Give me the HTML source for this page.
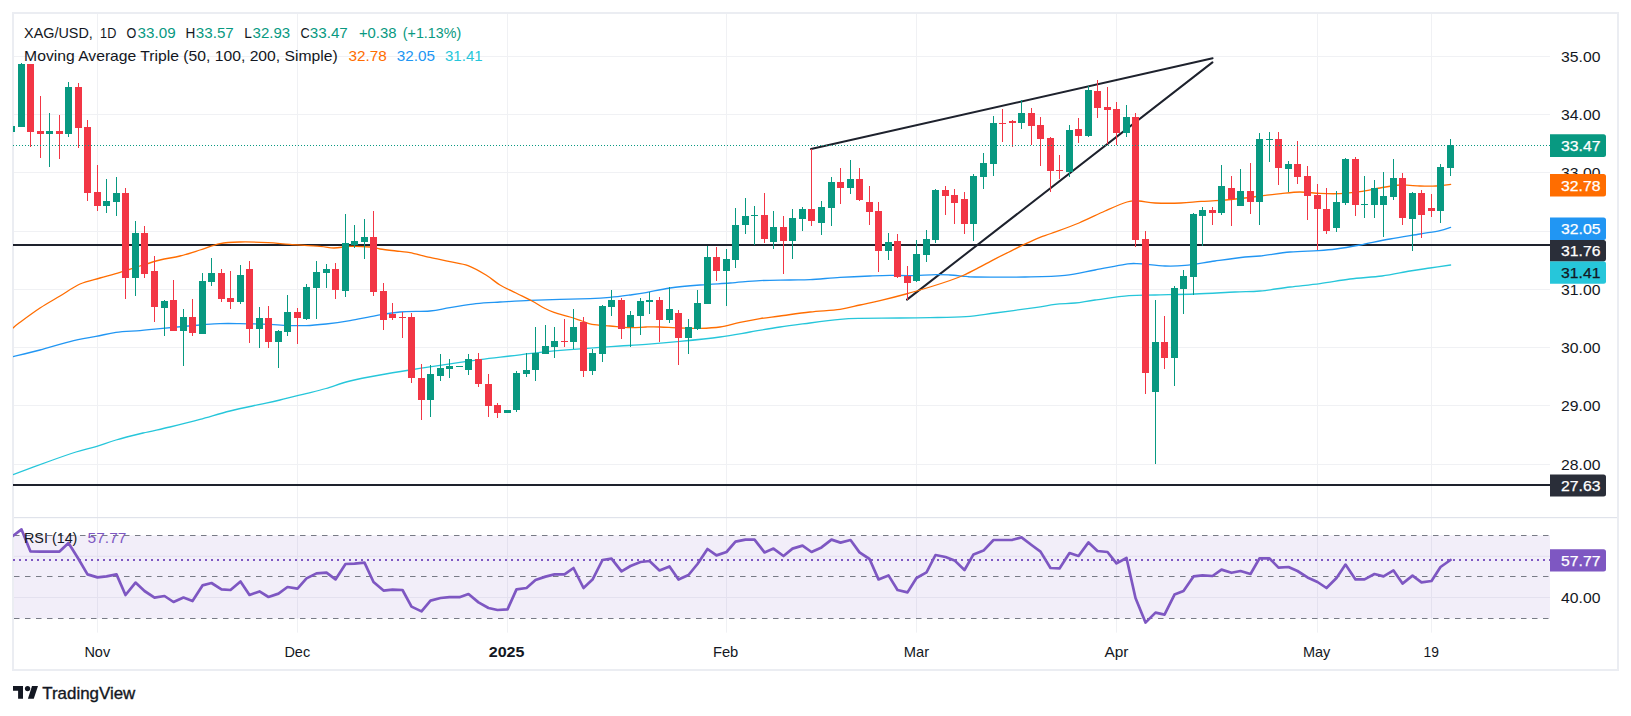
<!DOCTYPE html>
<html lang="en"><head><meta charset="utf-8"><title>XAG/USD chart</title>
<style>html,body{margin:0;padding:0;background:#fff;}body{width:1631px;height:716px;overflow:hidden;}svg{display:block;}text{white-space:pre;}</style>
</head><body>
<svg width="1631" height="716" viewBox="0 0 1631 716" font-family='"Liberation Sans", Arial, sans-serif'>
<rect x="0" y="0" width="1631" height="716" fill="#ffffff"/>
<defs><clipPath id="cp"><rect x="13" y="14" width="1537" height="503.5"/></clipPath><clipPath id="cr"><rect x="13" y="518" width="1537" height="114.6"/></clipPath></defs>
<rect x="13" y="13" width="1605" height="657" fill="none" stroke="#ebedf2" stroke-width="2"/>
<rect x="14" y="56.0" width="1536" height="1" fill="#f0f1f4"/>
<rect x="14" y="114.0" width="1536" height="1" fill="#f0f1f4"/>
<rect x="14" y="172.0" width="1536" height="1" fill="#f0f1f4"/>
<rect x="14" y="231.0" width="1536" height="1" fill="#f0f1f4"/>
<rect x="14" y="289.0" width="1536" height="1" fill="#f0f1f4"/>
<rect x="14" y="347.0" width="1536" height="1" fill="#f0f1f4"/>
<rect x="14" y="405.0" width="1536" height="1" fill="#f0f1f4"/>
<rect x="14" y="464.0" width="1536" height="1" fill="#f0f1f4"/>
<rect x="14" y="555.8" width="1536" height="1" fill="#f0f1f4"/>
<rect x="14" y="597.0" width="1536" height="1" fill="#f0f1f4"/>
<rect x="97.0" y="14" width="1" height="618.6" fill="#f0f1f4"/>
<rect x="297.0" y="14" width="1" height="618.6" fill="#f0f1f4"/>
<rect x="507.0" y="14" width="1" height="618.6" fill="#f0f1f4"/>
<rect x="726.0" y="14" width="1" height="618.6" fill="#f0f1f4"/>
<rect x="916.0" y="14" width="1" height="618.6" fill="#f0f1f4"/>
<rect x="1116.0" y="14" width="1" height="618.6" fill="#f0f1f4"/>
<rect x="1317.0" y="14" width="1" height="618.6" fill="#f0f1f4"/>
<rect x="1431.0" y="14" width="1" height="618.6" fill="#f0f1f4"/>
<rect x="14" y="517" width="1603" height="1.2" fill="#e0e3eb"/>
<rect x="14" y="535.5" width="1536" height="83" fill="rgba(126,87,194,0.10)"/>
<line x1="14" y1="535.5" x2="1550" y2="535.5" stroke="#787b86" stroke-width="1.2" stroke-dasharray="5.5 5.5"/>
<line x1="14" y1="576.5" x2="1550" y2="576.5" stroke="#787b86" stroke-width="1.2" stroke-dasharray="5.5 5.5"/>
<line x1="14" y1="618.5" x2="1550" y2="618.5" stroke="#787b86" stroke-width="1.2" stroke-dasharray="5.5 5.5"/>
<g clip-path="url(#cp)">
<line x1="13" y1="245" x2="1550" y2="245" stroke="#1e222d" stroke-width="2"/>
<line x1="13" y1="485" x2="1550" y2="485" stroke="#1e222d" stroke-width="2"/>
<line x1="811" y1="149" x2="1212.6" y2="58.2" stroke="#1e222d" stroke-width="2" stroke-linecap="round"/>
<line x1="907" y1="299.6" x2="1212.4" y2="62.4" stroke="#1e222d" stroke-width="2" stroke-linecap="round"/>
<path d="M13.0 474.6C19.2 472.3 39.5 464.8 50.0 461.0C60.5 457.2 68.3 454.4 76.0 452.0C83.7 449.6 89.3 448.6 96.0 446.6C102.7 444.6 108.2 442.3 116.0 440.0C123.8 437.7 134.0 435.2 143.0 433.0C152.0 430.8 160.5 429.3 170.0 427.0C179.5 424.7 190.0 422.1 200.0 419.4C210.0 416.7 220.0 413.5 230.0 411.0C240.0 408.5 251.7 406.2 260.0 404.4C268.3 402.6 272.3 401.8 280.0 400.0C287.7 398.2 298.3 395.5 306.0 393.6C313.7 391.7 318.7 390.6 326.0 388.5C333.3 386.4 341.0 383.2 350.0 381.0C359.0 378.8 370.0 376.8 380.0 375.0C390.0 373.2 400.0 371.6 410.0 370.0C420.0 368.4 428.3 367.1 440.0 365.4C451.7 363.7 468.3 361.2 480.0 359.6C491.7 358.0 500.0 357.2 510.0 356.0C520.0 354.8 530.0 353.5 540.0 352.4C550.0 351.3 560.0 350.4 570.0 349.6C580.0 348.8 591.7 348.0 600.0 347.4C608.3 346.8 612.3 346.5 620.0 346.0C627.7 345.5 636.0 345.2 646.0 344.4C656.0 343.6 667.7 342.6 680.0 341.4C692.3 340.2 708.3 338.6 720.0 337.0C731.7 335.4 740.0 333.7 750.0 332.0C760.0 330.3 770.0 328.5 780.0 327.0C790.0 325.5 800.0 324.3 810.0 323.0C820.0 321.7 831.7 320.2 840.0 319.4C848.3 318.6 850.0 318.6 860.0 318.4C870.0 318.2 888.3 318.1 900.0 318.0C911.7 317.9 919.0 317.8 930.0 317.6C941.0 317.4 955.2 317.4 966.0 316.6C976.8 315.8 983.5 314.5 995.0 313.0C1006.5 311.5 1025.0 309.0 1035.0 307.6C1045.0 306.2 1048.3 305.2 1055.0 304.4C1061.7 303.6 1068.3 303.7 1075.0 303.0C1081.7 302.3 1086.0 301.2 1095.0 300.0C1104.0 298.8 1119.0 296.4 1129.0 295.6C1139.0 294.8 1144.0 295.3 1155.0 295.0C1166.0 294.7 1181.7 294.5 1195.0 294.0C1208.3 293.5 1224.2 292.5 1235.0 292.0C1245.8 291.5 1250.8 291.8 1260.0 291.0C1269.2 290.2 1280.0 288.2 1290.0 287.0C1300.0 285.8 1310.0 284.9 1320.0 283.6C1330.0 282.3 1339.7 280.3 1350.0 279.0C1360.3 277.7 1372.0 277.3 1382.0 276.0C1392.0 274.7 1402.0 272.3 1410.0 271.0C1418.0 269.7 1423.2 269.0 1430.0 268.0C1436.8 267.0 1447.2 265.5 1450.6 265.0" fill="none" stroke="#26c6da" stroke-width="1.3" stroke-linejoin="round" stroke-linecap="round"/>
<path d="M13.0 356.6C17.5 355.5 30.5 352.5 40.0 350.0C49.5 347.5 60.7 343.9 70.0 341.6C79.3 339.3 88.3 337.9 96.0 336.4C103.7 334.9 108.7 333.4 116.0 332.4C123.3 331.4 132.7 331.2 140.0 330.6C147.3 330.0 150.0 329.5 160.0 328.6C170.0 327.7 190.0 325.8 200.0 325.0C210.0 324.2 213.3 323.8 220.0 323.6C226.7 323.4 231.7 323.5 240.0 323.6C248.3 323.7 262.7 324.1 270.0 324.4C277.3 324.7 278.0 325.2 284.0 325.4C290.0 325.6 299.0 325.8 306.0 325.6C313.0 325.4 318.7 324.8 326.0 324.0C333.3 323.2 341.7 322.0 350.0 320.6C358.3 319.2 367.7 317.0 376.0 315.6C384.3 314.2 391.0 312.8 400.0 312.0C409.0 311.2 421.7 311.7 430.0 311.0C438.3 310.3 442.3 308.8 450.0 307.6C457.7 306.4 467.7 304.5 476.0 303.6C484.3 302.7 491.0 302.5 500.0 302.0C509.0 301.5 520.0 300.8 530.0 300.4C540.0 300.0 550.0 299.7 560.0 299.4C570.0 299.1 581.7 298.9 590.0 298.6C598.3 298.3 603.3 298.0 610.0 297.4C616.7 296.8 624.0 295.8 630.0 295.0C636.0 294.2 639.3 293.8 646.0 292.6C652.7 291.4 661.0 289.3 670.0 288.0C679.0 286.7 690.0 285.8 700.0 285.0C710.0 284.2 720.0 283.7 730.0 283.0C740.0 282.3 750.0 281.1 760.0 280.6C770.0 280.1 781.7 280.2 790.0 280.0C798.3 279.8 801.7 280.0 810.0 279.6C818.3 279.2 830.0 278.0 840.0 277.4C850.0 276.8 861.7 276.3 870.0 276.0C878.3 275.7 883.3 275.5 890.0 275.4C896.7 275.3 902.3 275.7 910.0 275.6C917.7 275.5 929.3 274.7 936.0 274.6C942.7 274.5 945.0 274.7 950.0 275.0C955.0 275.3 961.8 276.1 966.0 276.4C970.2 276.7 965.2 276.9 975.0 277.0C984.8 277.1 1010.0 277.3 1025.0 277.0C1040.0 276.7 1053.3 276.6 1065.0 275.4C1076.7 274.2 1085.0 271.8 1095.0 270.0C1105.0 268.2 1118.0 265.5 1125.0 264.4C1132.0 263.3 1130.3 263.3 1137.0 263.6C1143.7 263.9 1157.0 265.7 1165.0 266.0C1173.0 266.3 1176.7 266.2 1185.0 265.4C1193.3 264.6 1205.0 262.4 1215.0 261.0C1225.0 259.6 1237.5 257.8 1245.0 257.0C1252.5 256.2 1252.5 256.8 1260.0 256.0C1267.5 255.2 1280.3 252.9 1290.0 252.0C1299.7 251.1 1310.3 251.1 1318.0 250.6C1325.7 250.1 1329.0 249.9 1336.0 249.0C1343.0 248.1 1351.0 246.7 1360.0 245.0C1369.0 243.3 1380.0 240.8 1390.0 239.0C1400.0 237.2 1411.7 235.4 1420.0 234.0C1428.3 232.6 1434.9 231.7 1440.0 230.6C1445.1 229.5 1448.8 227.9 1450.6 227.4" fill="none" stroke="#2196f3" stroke-width="1.3" stroke-linejoin="round" stroke-linecap="round"/>
<path d="M13.0 328.0C14.0 327.2 14.5 326.3 19.0 323.0C23.5 319.7 33.2 312.5 40.0 308.0C46.8 303.5 53.3 300.0 60.0 296.0C66.7 292.0 73.3 287.0 80.0 284.0C86.7 281.0 93.3 279.9 100.0 278.0C106.7 276.1 113.3 274.4 120.0 272.4C126.7 270.4 133.3 268.1 140.0 266.0C146.7 263.9 153.3 261.7 160.0 260.0C166.7 258.3 173.3 257.7 180.0 256.0C186.7 254.3 193.3 252.1 200.0 250.0C206.7 247.9 213.3 244.9 220.0 243.6C226.7 242.3 232.0 242.2 240.0 242.0C248.0 241.8 259.7 242.2 268.0 242.6C276.3 243.0 281.3 243.8 290.0 244.4C298.7 245.0 312.7 245.8 320.0 246.4C327.3 247.0 329.0 248.0 334.0 248.0C339.0 248.0 344.0 246.6 350.0 246.4C356.0 246.2 365.0 246.6 370.0 247.0C375.0 247.4 375.0 248.3 380.0 249.0C385.0 249.7 395.0 250.8 400.0 251.4C405.0 252.0 405.0 251.6 410.0 252.6C415.0 253.6 423.3 255.9 430.0 257.4C436.7 258.9 443.7 260.2 450.0 261.6C456.3 263.0 462.0 263.4 468.0 265.6C474.0 267.8 480.7 271.8 486.0 275.0C491.3 278.2 495.0 282.0 500.0 285.0C505.0 288.0 510.7 290.3 516.0 293.0C521.3 295.7 527.3 298.5 532.0 301.0C536.7 303.5 540.3 306.1 544.0 308.0C547.7 309.9 549.7 310.9 554.0 312.4C558.3 313.9 565.3 315.6 570.0 317.0C574.7 318.4 578.3 319.8 582.0 321.0C585.7 322.2 587.3 323.6 592.0 324.4C596.7 325.2 603.7 325.5 610.0 326.0C616.3 326.5 624.0 327.4 630.0 327.6C636.0 327.8 641.0 327.1 646.0 327.0C651.0 326.9 654.3 326.8 660.0 327.0C665.7 327.2 673.3 327.8 680.0 328.0C686.7 328.2 693.3 328.6 700.0 328.4C706.7 328.2 713.3 328.0 720.0 327.0C726.7 326.0 733.3 323.8 740.0 322.4C746.7 321.0 753.3 319.7 760.0 318.6C766.7 317.5 771.7 317.1 780.0 316.0C788.3 314.9 800.0 313.1 810.0 312.0C820.0 310.9 831.7 310.6 840.0 309.4C848.3 308.2 853.3 306.5 860.0 305.0C866.7 303.5 872.3 302.4 880.0 300.6C887.7 298.8 897.7 296.3 906.0 294.0C914.3 291.7 922.7 289.2 930.0 287.0C937.3 284.8 944.5 282.4 950.0 280.5C955.5 278.6 958.2 277.6 963.0 275.5C967.8 273.4 973.5 270.4 978.7 267.7C983.9 265.0 989.4 261.8 994.3 259.3C999.2 256.8 1003.3 254.8 1008.0 252.5C1012.7 250.2 1017.4 247.7 1022.7 245.2C1028.0 242.7 1035.3 239.2 1040.0 237.3C1044.7 235.4 1044.5 235.9 1051.0 233.5C1057.5 231.1 1070.0 226.8 1079.0 223.0C1088.0 219.2 1097.0 214.5 1105.0 211.0C1113.0 207.5 1121.3 203.7 1127.0 202.0C1132.7 200.3 1134.3 200.8 1139.0 201.0C1143.7 201.2 1148.0 202.7 1155.0 203.0C1162.0 203.3 1173.3 203.3 1181.0 203.0C1188.7 202.7 1194.3 201.8 1201.0 201.4C1207.7 201.0 1213.7 201.0 1221.0 200.4C1228.3 199.8 1237.7 198.8 1245.0 198.0C1252.3 197.2 1259.0 196.1 1265.0 195.4C1271.0 194.7 1275.2 194.2 1281.0 193.6C1286.8 193.0 1293.5 192.0 1300.0 192.0C1306.5 192.0 1313.3 193.1 1320.0 193.4C1326.7 193.7 1333.3 193.9 1340.0 193.6C1346.7 193.3 1353.3 192.5 1360.0 191.6C1366.7 190.7 1373.3 189.1 1380.0 188.0C1386.7 186.9 1393.3 185.3 1400.0 185.0C1406.7 184.7 1414.0 185.8 1420.0 186.0C1426.0 186.2 1430.9 186.3 1436.0 186.0C1441.1 185.7 1448.2 184.7 1450.6 184.4" fill="none" stroke="#ff6d00" stroke-width="1.3" stroke-linejoin="round" stroke-linecap="round"/>
<path d="M11.0 126.0h1V132.0h-1ZM8.0 126.0h7v6.0h-7ZM21.0 63.0h1V127.0h-1ZM18.0 64.0h7v63.0h-7ZM49.0 113.0h1V167.0h-1ZM46.0 131.0h7v3.0h-7ZM68.0 82.0h1V137.0h-1ZM65.0 87.0h7v47.0h-7ZM106.0 179.0h1V213.0h-1ZM103.0 201.0h7v5.0h-7ZM116.0 177.0h1V216.0h-1ZM113.0 193.0h7v9.0h-7ZM135.0 221.0h1V296.0h-1ZM132.0 233.0h7v45.0h-7ZM164.0 300.0h1V336.0h-1ZM161.0 301.0h7v7.0h-7ZM183.0 309.0h1V366.0h-1ZM180.0 317.0h7v14.0h-7ZM202.0 273.0h1V334.0h-1ZM199.0 281.0h7v53.0h-7ZM211.0 258.0h1V286.0h-1ZM208.0 273.0h7v9.0h-7ZM240.0 265.0h1V304.0h-1ZM237.0 275.0h7v27.0h-7ZM259.0 307.0h1V348.0h-1ZM256.0 318.0h7v11.0h-7ZM278.0 330.0h1V368.0h-1ZM275.0 331.0h7v11.0h-7ZM287.0 295.0h1V336.0h-1ZM284.0 312.0h7v20.0h-7ZM306.0 284.0h1V320.0h-1ZM303.0 287.0h7v32.0h-7ZM316.0 261.0h1V319.0h-1ZM313.0 272.0h7v16.0h-7ZM326.0 264.0h1V288.0h-1ZM323.0 269.0h7v4.0h-7ZM345.0 214.0h1V297.0h-1ZM342.0 243.0h7v48.0h-7ZM354.0 225.0h1V248.0h-1ZM351.0 241.0h7v4.0h-7ZM364.0 219.0h1V259.0h-1ZM361.0 237.0h7v5.0h-7ZM430.0 365.0h1V417.0h-1ZM427.0 374.0h7v26.0h-7ZM440.0 354.0h1V381.0h-1ZM437.0 368.0h7v8.0h-7ZM449.0 359.0h1V378.0h-1ZM446.0 366.0h7v3.0h-7ZM459.0 366.0h1V367.0h-1ZM456.0 366.0h7v1.0h-7ZM468.0 354.0h1V375.0h-1ZM465.0 359.0h7v11.0h-7ZM507.0 410.0h1V413.0h-1ZM504.0 410.0h7v3.0h-7ZM516.0 371.0h1V412.0h-1ZM513.0 373.0h7v37.0h-7ZM526.0 353.0h1V377.0h-1ZM523.0 370.0h7v4.0h-7ZM535.0 327.0h1V381.0h-1ZM532.0 353.0h7v17.0h-7ZM545.0 325.0h1V354.0h-1ZM542.0 346.0h7v8.0h-7ZM554.0 327.0h1V358.0h-1ZM551.0 341.0h7v6.0h-7ZM573.0 309.0h1V349.0h-1ZM570.0 327.0h7v15.0h-7ZM592.0 349.0h1V375.0h-1ZM589.0 353.0h7v18.0h-7ZM602.0 305.0h1V362.0h-1ZM599.0 306.0h7v48.0h-7ZM611.0 290.0h1V316.0h-1ZM608.0 300.0h7v7.0h-7ZM630.0 311.0h1V347.0h-1ZM627.0 315.0h7v12.0h-7ZM640.0 298.0h1V335.0h-1ZM637.0 301.0h7v15.0h-7ZM649.0 292.0h1V314.0h-1ZM646.0 300.0h7v2.0h-7ZM669.0 287.0h1V323.0h-1ZM666.0 309.0h7v11.0h-7ZM688.0 319.0h1V354.0h-1ZM685.0 327.0h7v11.0h-7ZM697.0 290.0h1V330.0h-1ZM694.0 303.0h7v26.0h-7ZM707.0 246.0h1V304.0h-1ZM704.0 257.0h7v47.0h-7ZM726.0 249.0h1V306.0h-1ZM723.0 259.0h7v12.0h-7ZM735.0 208.0h1V268.0h-1ZM732.0 225.0h7v35.0h-7ZM745.0 198.0h1V234.0h-1ZM742.0 216.0h7v9.0h-7ZM754.0 206.0h1V245.0h-1ZM751.0 215.0h7v1.0h-7ZM773.0 211.0h1V249.0h-1ZM770.0 227.0h7v15.0h-7ZM792.0 209.0h1V259.0h-1ZM789.0 218.0h7v23.0h-7ZM802.0 207.0h1V231.0h-1ZM799.0 209.0h7v10.0h-7ZM821.0 201.0h1V235.0h-1ZM818.0 207.0h7v16.0h-7ZM831.0 177.0h1V226.0h-1ZM828.0 182.0h7v26.0h-7ZM850.0 160.0h1V194.0h-1ZM847.0 179.0h7v9.0h-7ZM888.0 233.0h1V260.0h-1ZM885.0 242.0h7v9.0h-7ZM916.0 240.0h1V282.0h-1ZM913.0 254.0h7v27.0h-7ZM926.0 230.0h1V262.0h-1ZM923.0 239.0h7v16.0h-7ZM935.0 189.0h1V243.0h-1ZM932.0 190.0h7v50.0h-7ZM973.0 174.0h1V241.0h-1ZM970.0 176.0h7v48.0h-7ZM983.0 153.0h1V189.0h-1ZM980.0 163.0h7v14.0h-7ZM993.0 116.0h1V176.0h-1ZM990.0 123.0h7v41.0h-7ZM1021.0 100.0h1V129.0h-1ZM1018.0 113.0h7v10.0h-7ZM1069.0 125.0h1V177.0h-1ZM1066.0 130.0h7v42.0h-7ZM1088.0 86.0h1V137.0h-1ZM1085.0 90.0h7v46.0h-7ZM1126.0 105.0h1V137.0h-1ZM1123.0 117.0h7v16.0h-7ZM1155.0 300.0h1V464.0h-1ZM1152.0 342.0h7v50.0h-7ZM1174.0 286.0h1V386.0h-1ZM1171.0 288.0h7v70.0h-7ZM1183.0 270.0h1V314.0h-1ZM1180.0 276.0h7v13.0h-7ZM1193.0 213.0h1V295.0h-1ZM1190.0 214.0h7v63.0h-7ZM1202.0 207.0h1V246.0h-1ZM1199.0 210.0h7v6.0h-7ZM1221.0 165.0h1V215.0h-1ZM1218.0 186.0h7v27.0h-7ZM1240.0 169.0h1V206.0h-1ZM1237.0 191.0h7v15.0h-7ZM1259.0 133.0h1V225.0h-1ZM1256.0 139.0h7v63.0h-7ZM1269.0 132.0h1V162.0h-1ZM1266.0 139.0h7v1.0h-7ZM1288.0 161.0h1V192.0h-1ZM1285.0 164.0h7v5.0h-7ZM1336.0 191.0h1V232.0h-1ZM1333.0 202.0h7v26.0h-7ZM1345.0 158.0h1V205.0h-1ZM1342.0 159.0h7v44.0h-7ZM1364.0 176.0h1V218.0h-1ZM1361.0 204.0h7v1.0h-7ZM1374.0 180.0h1V218.0h-1ZM1371.0 188.0h7v17.0h-7ZM1383.0 172.0h1V237.0h-1ZM1380.0 196.0h7v9.0h-7ZM1393.0 159.0h1V200.0h-1ZM1390.0 178.0h7v19.0h-7ZM1412.0 192.0h1V251.0h-1ZM1409.0 193.0h7v26.0h-7ZM1440.0 164.0h1V223.0h-1ZM1437.0 167.0h7v44.0h-7ZM1450.0 139.0h1V176.0h-1ZM1447.0 145.0h7v23.0h-7Z" fill="#089981"/>
<path d="M30.0 64.0h1V147.0h-1ZM27.0 64.0h7v68.0h-7ZM40.0 96.0h1V158.0h-1ZM37.0 131.0h7v3.0h-7ZM59.0 115.0h1V159.0h-1ZM56.0 131.0h7v3.0h-7ZM78.0 83.0h1V148.0h-1ZM75.0 87.0h7v41.0h-7ZM87.0 120.0h1V201.0h-1ZM84.0 127.0h7v66.0h-7ZM97.0 165.0h1V211.0h-1ZM94.0 192.0h7v14.0h-7ZM125.0 188.0h1V299.0h-1ZM122.0 193.0h7v85.0h-7ZM144.0 226.0h1V278.0h-1ZM141.0 233.0h7v41.0h-7ZM154.0 256.0h1V322.0h-1ZM151.0 271.0h7v36.0h-7ZM173.0 280.0h1V331.0h-1ZM170.0 300.0h7v31.0h-7ZM192.0 299.0h1V336.0h-1ZM189.0 317.0h7v16.0h-7ZM221.0 269.0h1V302.0h-1ZM218.0 273.0h7v26.0h-7ZM230.0 271.0h1V309.0h-1ZM227.0 298.0h7v4.0h-7ZM249.0 261.0h1V343.0h-1ZM246.0 269.0h7v60.0h-7ZM268.0 306.0h1V348.0h-1ZM265.0 318.0h7v24.0h-7ZM297.0 308.0h1V344.0h-1ZM294.0 312.0h7v6.0h-7ZM335.0 263.0h1V299.0h-1ZM332.0 269.0h7v21.0h-7ZM373.0 211.0h1V296.0h-1ZM370.0 237.0h7v55.0h-7ZM383.0 283.0h1V330.0h-1ZM380.0 291.0h7v29.0h-7ZM392.0 303.0h1V320.0h-1ZM389.0 314.0h7v4.0h-7ZM402.0 312.0h1V338.0h-1ZM399.0 317.0h7v1.0h-7ZM411.0 313.0h1V383.0h-1ZM408.0 317.0h7v61.0h-7ZM421.0 364.0h1V420.0h-1ZM418.0 378.0h7v22.0h-7ZM478.0 353.0h1V387.0h-1ZM475.0 359.0h7v25.0h-7ZM488.0 374.0h1V417.0h-1ZM485.0 384.0h7v22.0h-7ZM497.0 403.0h1V418.0h-1ZM494.0 405.0h7v8.0h-7ZM564.0 319.0h1V347.0h-1ZM561.0 341.0h7v1.0h-7ZM583.0 317.0h1V377.0h-1ZM580.0 322.0h7v49.0h-7ZM621.0 298.0h1V339.0h-1ZM618.0 300.0h7v29.0h-7ZM659.0 297.0h1V342.0h-1ZM656.0 300.0h7v20.0h-7ZM678.0 310.0h1V365.0h-1ZM675.0 313.0h7v25.0h-7ZM716.0 247.0h1V281.0h-1ZM713.0 257.0h7v14.0h-7ZM764.0 193.0h1V243.0h-1ZM761.0 215.0h7v24.0h-7ZM783.0 216.0h1V274.0h-1ZM780.0 227.0h7v14.0h-7ZM811.0 149.0h1V226.0h-1ZM808.0 209.0h7v12.0h-7ZM840.0 168.0h1V204.0h-1ZM837.0 182.0h7v6.0h-7ZM859.0 168.0h1V201.0h-1ZM856.0 179.0h7v21.0h-7ZM869.0 186.0h1V225.0h-1ZM866.0 202.0h7v10.0h-7ZM878.0 202.0h1V272.0h-1ZM875.0 211.0h7v40.0h-7ZM897.0 234.0h1V278.0h-1ZM894.0 241.0h7v36.0h-7ZM907.0 266.0h1V300.0h-1ZM904.0 276.0h7v7.0h-7ZM945.0 186.0h1V215.0h-1ZM942.0 190.0h7v6.0h-7ZM954.0 189.0h1V224.0h-1ZM951.0 195.0h7v8.0h-7ZM964.0 192.0h1V234.0h-1ZM961.0 199.0h7v25.0h-7ZM1002.0 109.0h1V142.0h-1ZM999.0 123.0h7v1.0h-7ZM1012.0 120.0h1V147.0h-1ZM1009.0 121.0h7v2.0h-7ZM1031.0 108.0h1V145.0h-1ZM1028.0 113.0h7v13.0h-7ZM1040.0 117.0h1V166.0h-1ZM1037.0 125.0h7v14.0h-7ZM1050.0 137.0h1V192.0h-1ZM1047.0 138.0h7v33.0h-7ZM1059.0 155.0h1V179.0h-1ZM1056.0 170.0h7v1.0h-7ZM1078.0 118.0h1V143.0h-1ZM1075.0 129.0h7v7.0h-7ZM1097.0 80.0h1V118.0h-1ZM1094.0 91.0h7v17.0h-7ZM1107.0 87.0h1V144.0h-1ZM1104.0 107.0h7v3.0h-7ZM1116.0 102.0h1V145.0h-1ZM1113.0 109.0h7v24.0h-7ZM1135.0 113.0h1V247.0h-1ZM1132.0 117.0h7v123.0h-7ZM1145.0 231.0h1V394.0h-1ZM1142.0 239.0h7v134.0h-7ZM1164.0 316.0h1V369.0h-1ZM1161.0 342.0h7v16.0h-7ZM1212.0 207.0h1V225.0h-1ZM1209.0 210.0h7v3.0h-7ZM1231.0 176.0h1V226.0h-1ZM1228.0 188.0h7v11.0h-7ZM1250.0 163.0h1V214.0h-1ZM1247.0 191.0h7v11.0h-7ZM1278.0 132.0h1V185.0h-1ZM1275.0 139.0h7v29.0h-7ZM1297.0 141.0h1V184.0h-1ZM1294.0 164.0h7v13.0h-7ZM1307.0 166.0h1V220.0h-1ZM1304.0 176.0h7v20.0h-7ZM1317.0 184.0h1V250.0h-1ZM1314.0 195.0h7v14.0h-7ZM1326.0 188.0h1V234.0h-1ZM1323.0 209.0h7v22.0h-7ZM1355.0 157.0h1V216.0h-1ZM1352.0 159.0h7v46.0h-7ZM1402.0 173.0h1V225.0h-1ZM1399.0 178.0h7v40.0h-7ZM1421.0 190.0h1V238.0h-1ZM1418.0 193.0h7v22.0h-7ZM1431.0 194.0h1V217.0h-1ZM1428.0 208.0h7v3.0h-7Z" fill="#f23645"/>
<line x1="13" y1="145.5" x2="1550" y2="145.5" stroke="#089981" stroke-width="1" stroke-dasharray="1 2"/>
</g>
<g clip-path="url(#cr)">
<line x1="13" y1="560" x2="1550" y2="560" stroke="#7e57c2" stroke-width="2" stroke-dasharray="2 4"/>
<polyline points="11.5,537.0 21.5,529.4 30.5,551.4 40.5,551.6 49.5,551.6 59.5,551.6 68.5,543.0 78.5,559.0 87.5,574.4 97.5,577.4 106.5,576.4 116.5,574.4 125.5,595.0 135.5,582.6 144.5,591.0 154.5,597.6 164.5,596.0 173.5,602.0 183.5,597.6 192.5,601.0 202.5,585.4 211.5,583.0 221.5,589.4 230.5,590.0 240.5,581.4 249.5,595.0 259.5,591.4 268.5,597.0 278.5,593.6 287.5,587.0 297.5,588.6 306.5,578.4 316.5,573.4 326.5,572.6 335.5,579.4 345.5,564.0 354.5,563.6 364.5,562.6 373.5,582.0 383.5,590.6 392.5,589.6 402.5,590.0 411.5,606.6 421.5,611.4 430.5,600.6 440.5,598.0 449.5,597.2 459.5,597.2 468.5,594.0 478.5,602.4 488.5,608.0 497.5,610.0 507.5,609.4 516.5,589.4 526.5,588.0 535.5,580.0 545.5,576.6 554.5,574.4 564.5,574.4 573.5,568.0 583.5,588.0 592.5,579.6 602.5,560.0 611.5,558.6 621.5,571.4 630.5,566.0 640.5,562.0 649.5,561.0 659.5,570.4 669.5,566.4 678.5,579.6 688.5,575.0 697.5,564.0 707.5,549.0 716.5,555.4 726.5,552.0 735.5,541.6 745.5,539.6 754.5,539.6 764.5,552.4 773.5,548.6 783.5,556.0 792.5,548.6 802.5,545.6 811.5,552.0 821.5,547.4 831.5,539.6 840.5,542.6 850.5,540.0 859.5,552.4 869.5,559.0 878.5,579.4 888.5,575.4 897.5,590.0 907.5,592.4 916.5,578.0 926.5,572.4 935.5,555.0 945.5,557.0 954.5,560.4 964.5,570.0 973.5,554.4 983.5,550.6 993.5,540.0 1002.5,540.0 1012.5,539.8 1021.5,537.4 1031.5,545.0 1040.5,551.6 1050.5,568.0 1059.5,568.4 1069.5,553.0 1078.5,556.0 1088.5,542.4 1097.5,551.0 1107.5,552.0 1116.5,563.4 1126.5,558.0 1135.5,598.0 1145.5,622.6 1155.5,612.6 1164.5,614.6 1174.5,594.6 1183.5,591.0 1193.5,576.4 1202.5,575.4 1212.5,576.0 1221.5,569.6 1231.5,572.8 1240.5,571.0 1250.5,574.0 1259.5,558.4 1269.5,558.4 1278.5,567.6 1288.5,567.0 1297.5,571.0 1307.5,577.4 1317.5,582.0 1326.5,588.0 1336.5,578.0 1345.5,564.6 1355.5,579.4 1364.5,579.4 1374.5,574.0 1383.5,576.4 1393.5,570.4 1402.5,583.6 1412.5,575.6 1421.5,582.4 1431.5,581.0 1440.5,567.0 1450.5,560.0" fill="none" stroke="#7e57c2" stroke-width="2.7" stroke-linejoin="round" stroke-linecap="round"/>
</g>
<text x="24.1" y="38.0" font-size="14.5" fill="#131722" textLength="68.7" lengthAdjust="spacingAndGlyphs" >XAG/USD,</text>
<text x="100.1" y="38.0" font-size="14.5" fill="#131722" textLength="16.2" lengthAdjust="spacingAndGlyphs" >1D</text>
<text x="126.5" y="38.0" font-size="14.5" fill="#131722" textLength="9.8" lengthAdjust="spacingAndGlyphs" >O</text>
<text x="137.6" y="38.0" font-size="14.5" fill="#089981" textLength="38" lengthAdjust="spacingAndGlyphs" >33.09</text>
<text x="185.4" y="38.0" font-size="14.5" fill="#131722" textLength="9.8" lengthAdjust="spacingAndGlyphs" >H</text>
<text x="195.8" y="38.0" font-size="14.5" fill="#089981" textLength="38" lengthAdjust="spacingAndGlyphs" >33.57</text>
<text x="244.2" y="38.0" font-size="14.5" fill="#131722" textLength="7.6" lengthAdjust="spacingAndGlyphs" >L</text>
<text x="252.6" y="38.0" font-size="14.5" fill="#089981" textLength="37.6" lengthAdjust="spacingAndGlyphs" >32.93</text>
<text x="300.4" y="38.0" font-size="14.5" fill="#131722" textLength="9.2" lengthAdjust="spacingAndGlyphs" >C</text>
<text x="309.8" y="38.0" font-size="14.5" fill="#089981" textLength="38" lengthAdjust="spacingAndGlyphs" >33.47</text>
<text x="358.9" y="38.0" font-size="14.5" fill="#089981" textLength="37.6" lengthAdjust="spacingAndGlyphs" >+0.38</text>
<text x="402.8" y="38.0" font-size="14.5" fill="#089981" textLength="58.4" lengthAdjust="spacingAndGlyphs" >(+1.13%)</text>
<text x="24.1" y="60.6" font-size="14.5" fill="#131722" textLength="313.6" lengthAdjust="spacingAndGlyphs" >Moving Average Triple (50, 100, 200, Simple)</text>
<text x="348.4" y="60.6" font-size="14.5" fill="#ff6d00" textLength="38.4" lengthAdjust="spacingAndGlyphs" >32.78</text>
<text x="396.7" y="60.6" font-size="14.5" fill="#2196f3" textLength="38.2" lengthAdjust="spacingAndGlyphs" >32.05</text>
<text x="445.0" y="60.6" font-size="14.5" fill="#26c6da" textLength="37.6" lengthAdjust="spacingAndGlyphs" >31.41</text>
<text x="24" y="542.6" font-size="14.5" fill="#131722" textLength="53.4" lengthAdjust="spacingAndGlyphs" >RSI (14)</text>
<text x="87.6" y="542.6" font-size="14.5" fill="#7e57c2" textLength="38.8" lengthAdjust="spacingAndGlyphs" >57.77</text>
<text x="97.3" y="656.9" font-size="15" fill="#131722" textLength="25.8" lengthAdjust="spacingAndGlyphs" text-anchor="middle" >Nov</text>
<text x="297.3" y="656.9" font-size="15" fill="#131722" textLength="25.8" lengthAdjust="spacingAndGlyphs" text-anchor="middle" >Dec</text>
<text x="506.6" y="656.9" font-size="15" fill="#131722" textLength="35.8" lengthAdjust="spacingAndGlyphs" text-anchor="middle" font-weight="bold" >2025</text>
<text x="725.6" y="656.9" font-size="15" fill="#131722" textLength="25.4" lengthAdjust="spacingAndGlyphs" text-anchor="middle" >Feb</text>
<text x="916.4" y="656.9" font-size="15" fill="#131722" textLength="25.4" lengthAdjust="spacingAndGlyphs" text-anchor="middle" >Mar</text>
<text x="1116.4" y="656.9" font-size="15" fill="#131722" textLength="24" lengthAdjust="spacingAndGlyphs" text-anchor="middle" >Apr</text>
<text x="1316.6" y="656.9" font-size="15" fill="#131722" textLength="27.4" lengthAdjust="spacingAndGlyphs" text-anchor="middle" >May</text>
<text x="1431.2" y="656.9" font-size="15" fill="#131722" textLength="15.4" lengthAdjust="spacingAndGlyphs" text-anchor="middle" >19</text>
<text x="1561.0" y="61.6" font-size="15" fill="#131722" textLength="39.4" lengthAdjust="spacingAndGlyphs" >35.00</text>
<text x="1561.0" y="119.6" font-size="15" fill="#131722" textLength="39.4" lengthAdjust="spacingAndGlyphs" >34.00</text>
<text x="1561.0" y="177.7" font-size="15" fill="#131722" textLength="39.4" lengthAdjust="spacingAndGlyphs" >33.00</text>
<text x="1561.0" y="236.1" font-size="15" fill="#131722" textLength="39.4" lengthAdjust="spacingAndGlyphs" >32.00</text>
<text x="1561.0" y="294.7" font-size="15" fill="#131722" textLength="39.4" lengthAdjust="spacingAndGlyphs" >31.00</text>
<text x="1561.0" y="352.6" font-size="15" fill="#131722" textLength="39.4" lengthAdjust="spacingAndGlyphs" >30.00</text>
<text x="1561.0" y="410.6" font-size="15" fill="#131722" textLength="39.4" lengthAdjust="spacingAndGlyphs" >29.00</text>
<text x="1561.0" y="470.1" font-size="15" fill="#131722" textLength="39.4" lengthAdjust="spacingAndGlyphs" >28.00</text>
<text x="1561.0" y="602.9" font-size="15" fill="#131722" textLength="39.4" lengthAdjust="spacingAndGlyphs" >40.00</text>
<path d="M1550 134.2H1603.5a2.5 2.5 0 0 1 2.5 2.5V154.4a2.5 2.5 0 0 1 -2.5 2.5H1550Z" fill="#089981"/>
<text x="1561.0" y="150.8" font-size="15" fill="#ffffff" textLength="39.4" lengthAdjust="spacingAndGlyphs" stroke="#ffffff" stroke-width="0.25">33.47</text>
<path d="M1550 174.0H1603.5a2.5 2.5 0 0 1 2.5 2.5V194.1a2.5 2.5 0 0 1 -2.5 2.5H1550Z" fill="#ff6d00"/>
<text x="1561.0" y="190.5" font-size="15" fill="#ffffff" textLength="39.4" lengthAdjust="spacingAndGlyphs" stroke="#ffffff" stroke-width="0.25">32.78</text>
<path d="M1550 217.5H1603.5a2.5 2.5 0 0 1 2.5 2.5V237.5a2.5 2.5 0 0 1 -2.5 2.5H1550Z" fill="#2196f3"/>
<text x="1561.0" y="233.9" font-size="15" fill="#ffffff" textLength="39.4" lengthAdjust="spacingAndGlyphs" stroke="#ffffff" stroke-width="0.25">32.05</text>
<path d="M1550 261.2H1603.5a2.5 2.5 0 0 1 2.5 2.5V281.3a2.5 2.5 0 0 1 -2.5 2.5H1550Z" fill="#26c6da"/>
<text x="1561.0" y="277.7" font-size="15" fill="#131722" textLength="39.4" lengthAdjust="spacingAndGlyphs" stroke="#131722" stroke-width="0.25">31.41</text>
<path d="M1550 240.0H1603.5a2.5 2.5 0 0 1 2.5 2.5V258.7a2.5 2.5 0 0 1 -2.5 2.5H1550Z" fill="#2a2e39"/>
<text x="1561.0" y="255.8" font-size="15" fill="#ffffff" textLength="39.4" lengthAdjust="spacingAndGlyphs" stroke="#ffffff" stroke-width="0.25">31.76</text>
<path d="M1550 474.4H1603.5a2.5 2.5 0 0 1 2.5 2.5V494.0a2.5 2.5 0 0 1 -2.5 2.5H1550Z" fill="#2a2e39"/>
<text x="1561.0" y="490.6" font-size="15" fill="#ffffff" textLength="39.4" lengthAdjust="spacingAndGlyphs" stroke="#ffffff" stroke-width="0.25">27.63</text>
<path d="M1550 549.3H1603.5a2.5 2.5 0 0 1 2.5 2.5V569.1a2.5 2.5 0 0 1 -2.5 2.5H1550Z" fill="#7e57c2"/>
<text x="1561.0" y="565.7" font-size="15" fill="#ffffff" textLength="39.4" lengthAdjust="spacingAndGlyphs" stroke="#ffffff" stroke-width="0.25">57.77</text>
<path d="M13 686.1H23V698.7H18.1V690.8H13Z M32 686.1H38L33.75 698.7H27.9Z" fill="#131722"/>
<circle cx="27.57" cy="688.6" r="2.65" fill="#131722"/>
<text x="42.3" y="698.75" font-size="16.4" fill="#131722" textLength="93" lengthAdjust="spacingAndGlyphs" stroke="#131722" stroke-width="0.35">TradingView</text>
</svg>
</body></html>
